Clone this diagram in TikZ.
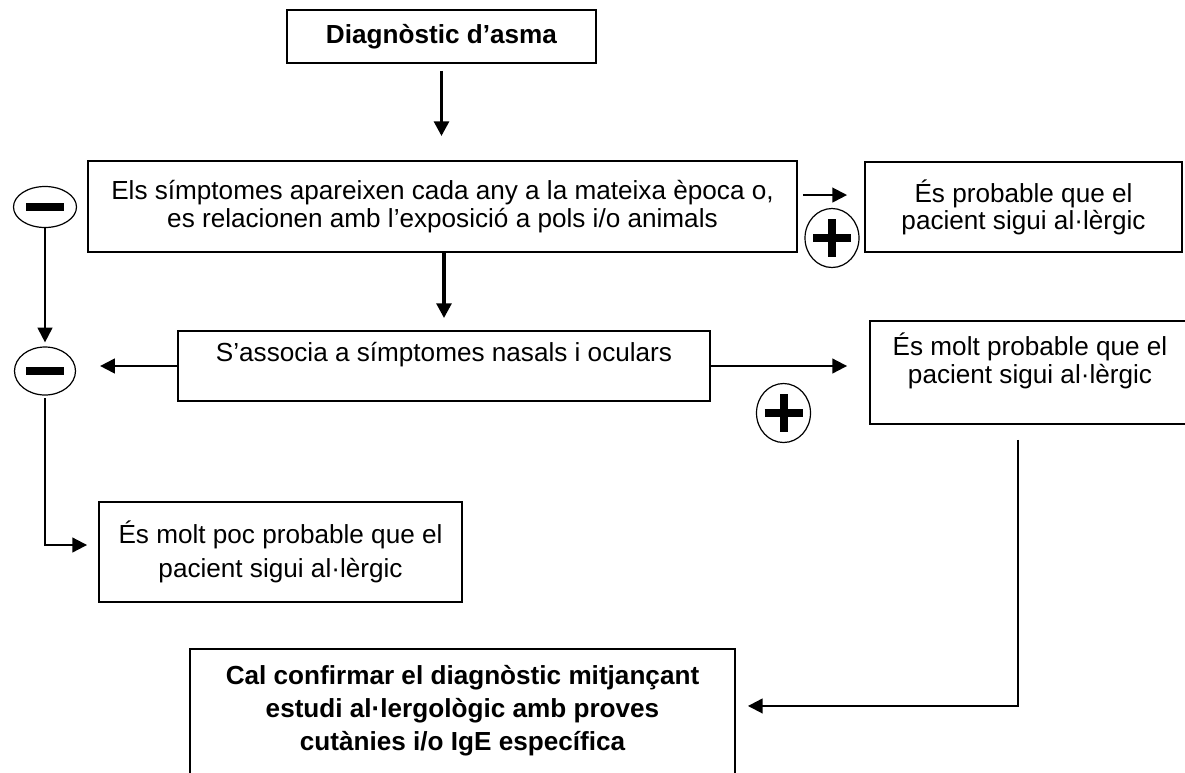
\documentclass[tikz,border=0pt]{standalone}
\usepackage{fontspec}
\setmainfont{Liberation Sans}
\usetikzlibrary{arrows.meta, shapes.geometric}

\begin{document}
\begin{tikzpicture}[x = 0.75pt, y = -0.75pt, > = {Triangle[length = 11pt, width = 11pt]},
	box/.style = {draw, line width = 1.4pt, align = center, inner sep = 0pt, font = \fontsize{19.6}{21}\selectfont},
	sign/.style = {draw, ellipse, line width = 0.9pt, inner sep = 0pt},
	bar/.style = {line width = 6pt},
	wire/.style = {line width = 1.5pt}]

\useasboundingbox (0, 0) rectangle (1185, 772);
\clip (0, 0) rectangle (1185, 772);

% Boxes

\node [box, minimum width = 231.75pt, minimum height = 39.75pt] (diag) at (441.5, 36.5) {\textbf{Diagnòstic d’asma}};

\node [box, minimum width = 531.75pt, minimum height = 68.25pt] (simpt) at (442.5, 206.5) {Els símptomes apareixen cada any a la mateixa època o,\\ es relacionen amb l’exposició a pols i/o animals};

\node [box, minimum width = 237.75pt, minimum height = 67.5pt, font = \fontsize{19.6}{20.25}\selectfont] (prob) at (1023.5, 207) {És probable que el\\pacient sigui al·lèrgic};

\node [box, minimum width = 399pt, minimum height = 52.5pt] (nasal) at (444, 366) {S’associa a símptomes nasals i oculars\\ \mbox{}};

\node [box, minimum width = 240pt, minimum height = 77.25pt] (molt) at (1030, 372.5) {És molt probable que el\\pacient sigui al·lèrgic\\ \mbox{}};

\node [box, minimum width = 272.25pt, minimum height = 75pt, font = \fontsize{19.6}{25.5}\selectfont] (poc) at (280.5, 552) {És molt poc probable que el\\pacient sigui al·lèrgic};

\node [box, minimum width = 408.75pt, minimum height = 113.25pt, font = \bfseries\fontsize{19.6}{24.75}\selectfont] (cal) at (462.5, 724.5) {Cal confirmar el diagnòstic mitjançant\\estudi al·lergològic amb proves\\cutànies i/o IgE específica\\ \mbox{}};

% Signs

\node [sign, minimum width = 47.25pt, minimum height = 30.75pt] (m1) at (45, 207) {};
\node [sign, minimum width = 45.75pt, minimum height = 36pt] (m2) at (45, 371) {};
\node [sign, minimum width = 40.5pt, minimum height = 44.25pt] (p1) at (832, 238) {};
\node [sign, minimum width = 40.5pt, minimum height = 44.25pt] (p2) at (783.5, 413) {};

\draw [bar] (m1.center) ++(-19, 0) -- ++(38, 0);
\draw [bar] (m2.center) ++(-19, 0) -- ++(38, 0);
\draw [bar] (p1.center) ++(-19, 0) -- ++(38, 0) (p1.center) ++(0, -19) -- ++(0, 38);
\draw [bar] (p2.center) ++(-19, 0) -- ++(38, 0) (p2.center) ++(0, -19) -- ++(0, 38);

% Arrows

\draw [wire, line width = 2.6pt, ->, shorten < = 5.25pt, shorten > = 18pt] (diag.south) -- (diag.south |- simpt.north);
\draw [wire, ->, shorten < = 3.75pt, shorten > = 12.75pt] ([yshift = 8.6pt] simpt.east) -- ([yshift = 8.6pt] simpt.east -| prob.west);
\draw [wire, line width = 2.6pt, ->, shorten > = 9pt] (nasal.north |- simpt.south) -- (nasal.north);
\draw [wire, ->, shorten > = 18pt] (nasal.west) -- (nasal.west -| m2.east);
\draw [wire, ->, shorten > = 16.5pt] (nasal.east) -- (nasal.east -| molt.west);
\draw [wire, ->, shorten > = 3pt] (m1) -- (m2);
\draw [wire, ->, shorten < = 2pt, shorten > = 8.25pt] (m2.south) |- ([yshift = 5.25pt] poc.west);
\draw [wire, ->, shorten < = 11.25pt, shorten > = 9pt] ([xshift = -9pt] molt.south) |- ([yshift = 13.9pt] cal.east);

\end{tikzpicture}
\end{document}
